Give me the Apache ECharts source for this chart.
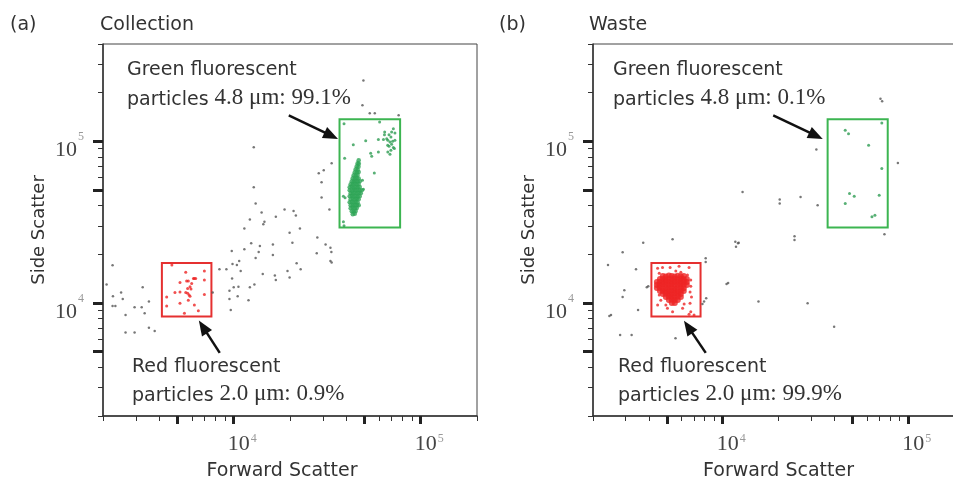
<!DOCTYPE html>
<html>
<head>
<meta charset="utf-8">
<script src="https://cdn.jsdelivr.net/npm/echarts@6/dist/echarts.min.js"></script>
<style>
  html, body { margin: 0; padding: 0; background: #fff; }
  #chart { width: 953px; height: 481px; }
</style>
</head>
<body>
<div id="chart"></div>
<script>
// axis ticks (log scale, forward / side scatter)
const xMinorTicks = [2000, 3000, 4000, 6000, 7000, 8000, 9000, 20000, 30000, 40000, 60000, 70000, 80000, 90000, 200000]
const xMajorTicks = [5000, 10000, 50000, 100000]
const yMinorTicks = [2000, 3000, 4000, 6000, 7000, 8000, 9000, 20000, 30000, 40000, 60000, 70000, 80000, 90000, 200000, 300000, 400000]
const yMajorTicks = [5000, 10000, 50000, 100000]
const decadeLabels = [10000, 100000]

// sorting gates [x0, y0, x1, y1]
const redGate = [4130, 8250, 7600, 17700]
const greenGate = [36800, 29300, 77600, 137000]

// (a) Collection
const collectionGray = [
  [29500, 44900], [13100, 41200], [18700, 37900], [20900, 37100], [14100, 36300], [21500, 34800],
  [16800, 34100], [12200, 32900], [14600, 31800], [14400, 30700], [11400, 28900], [22600, 28900],
  [19900, 27200], [32500, 37900], [28000, 25400], [20600, 23600], [12400, 23400], [16200, 23000],
  [13800, 22500], [11400, 21500], [9760, 21000], [31000, 23000], [32900, 22000], [13600, 20700],
  [16200, 19800], [33300, 20700], [27800, 20300], [13100, 19000], [10700, 18200], [10400, 17200],
  [9850, 17400], [32900, 18200], [33400, 17800], [21700, 17600], [8390, 16200], [9140, 16200],
  [10900, 15800], [22800, 16200], [19400, 15800], [14300, 15100], [16600, 14800], [19900, 14400],
  [16800, 13900], [9800, 14200], [12900, 13000], [12200, 12500], [10000, 12500], [10600, 12600],
  [9490, 11900], [7720, 11600], [10500, 11000], [9490, 10600], [12000, 10400], [9640, 9060],
  [2250, 17100], [2090, 13000], [2500, 11600], [2260, 11000], [2550, 10600], [3260, 12500],
  [3520, 10200], [2250, 9590], [2330, 9590], [2950, 9410], [3220, 9410], [3340, 8640],
  [2640, 8440], [3520, 7040], [3780, 6720], [2640, 6560], [2950, 6560],
  [12800, 91900], [33400, 73200], [28500, 63400], [30300, 66200], [29500, 55800], [12800, 52000],
  [49400, 238000], [48800, 167000], [53400, 149000], [56800, 149000], [76200, 145000]
]
const collectionRed = [
  [4670, 17200], [5540, 15500], [6970, 15800], [6090, 14200], [6260, 14200], [5160, 13400],
  [5600, 13700], [5960, 13200], [5840, 12600], [6970, 13900], [5910, 12200], [5670, 12300],
  [4850, 11600], [5160, 11700], [5540, 11600], [5670, 11500], [5770, 11200], [5840, 11000],
  [4380, 10900], [6970, 11300], [5720, 10400], [5160, 9960], [6160, 9720], [4380, 9590],
  [6470, 8970], [5450, 8640], [5720, 13700], [6160, 14200]
]
const collectionGreen = [
  [38900, 128600], [60300, 131600], [64200, 114100], [64000, 110000], [71400, 119800], [69900, 114100],
  [50800, 101000], [59400, 102800], [63200, 102800], [66700, 101400], [66600, 94500], [72800, 112500],
  [67700, 109900], [69300, 106300], [65800, 103900], [70800, 100000], [68500, 99000], [69900, 95900],
  [67700, 93200], [71400, 91500], [69300, 88000], [66700, 85900], [68500, 83100], [72300, 90200],
  [72800, 101400], [43600, 95400], [54000, 84300], [54700, 80800], [59400, 85900], [39200, 78500],
  [56500, 63700], [38600, 31800], [38900, 30000], [38600, 45800], [39400, 44700], [48800, 57400],
  [49400, 50600]
]
const collectionGreenCore = [
  [46600, 76300], [46000, 73100], [46700, 72600], [45500, 70100], [46500, 69600], [44900, 67200],
  [46000, 66800], [44400, 64400], [45500, 64100], [46600, 64600], [43800, 61700], [44900, 61300],
  [46000, 61900], [43300, 59100], [44400, 58700], [45500, 59300], [46600, 58800], [42800, 56600],
  [43800, 56300], [44900, 56900], [46000, 56400], [47200, 56700], [42200, 54300], [43300, 54000],
  [44400, 54600], [45500, 54100], [46600, 54400], [41700, 52000], [42800, 52300], [43800, 51700],
  [44900, 52200], [46000, 51800], [47200, 52100], [41700, 49800], [42800, 49500], [43800, 50100],
  [44900, 49700], [46000, 50000], [47200, 49600], [48400, 49900], [42200, 47800], [43300, 47500],
  [44400, 48000], [45500, 47600], [46600, 47900], [47800, 47700], [41700, 45800], [42800, 46000],
  [43800, 45600], [44900, 45900], [46000, 45500], [47200, 45800], [42200, 43900], [43300, 44100],
  [44400, 43700], [45500, 44000], [46600, 43800], [41700, 42000], [42800, 42200], [43800, 41800],
  [44900, 42100], [46000, 41900], [42200, 40300], [43300, 40100], [44400, 40400], [45500, 40200],
  [46600, 40300], [42200, 38600], [43300, 38800], [44400, 38500], [45500, 38700], [42800, 37000],
  [43800, 36800], [44900, 37100], [43300, 35400], [44400, 35600]
]

// (b) Waste
const wasteGray = [
  [12800, 48600], [20300, 43700], [20300, 41200], [26300, 45300], [32500, 40300], [24400, 25900],
  [24400, 24500], [11700, 23900], [12100, 23400], [11800, 22300], [12200, 23600], [3730, 23600],
  [5370, 24800], [2890, 20600], [2410, 17200], [3410, 16200], [8100, 18900], [8100, 17900],
  [2950, 12000], [2890, 10900], [3970, 12700], [3900, 12500], [10500, 13100], [10700, 13300],
  [8150, 10700], [7940, 10200], [7780, 9860], [15600, 10200], [28700, 9960], [39900, 7140],
  [3500, 9060], [2500, 8440], [2450, 8320], [2800, 6350], [3230, 6350], [5570, 6060],
  [32000, 88900], [70900, 183500], [72400, 177300], [88000, 73500], [74500, 26600]
]
const wasteRed = [
  [4460, 16400], [4740, 16600], [5210, 16600], [5820, 16900], [6590, 16600], [4550, 15300],
  [6460, 14900], [6730, 13900], [6730, 12700], [6670, 11700], [4550, 11200], [4640, 10400],
  [4460, 9720], [4940, 9720], [5040, 9280], [5370, 8840], [6080, 9280], [6200, 9870],
  [6730, 8840], [7010, 8440], [6590, 8520], [6790, 10900], [6670, 9970], [4840, 13900],
  [5590, 15800], [5950, 15500]
]
const wasteRedCore = [
  [4760, 14700], [4940, 14600], [5130, 14800], [5320, 14700], [5520, 14600], [5730, 14750], [5950, 14650], [6170, 14700],
  [4590, 14070], [4760, 14100], [4940, 14000], [5130, 14100], [5320, 14050], [5520, 14100], [5730, 14000], [5950, 14100], [6170, 14050], [6410, 14070],
  [4420, 13480], [4590, 13500], [4760, 13450], [4940, 13500], [5130, 13480], [5320, 13450], [5520, 13500], [5730, 13480], [5950, 13450], [6170, 13500], [6410, 13480],
  [4420, 12920], [4590, 12900], [4760, 12950], [4940, 12900], [5130, 12920], [5320, 12950], [5520, 12900], [5730, 12920], [5950, 12950], [6170, 12900], [6410, 12920],
  [4420, 12380], [4590, 12400], [4760, 12350], [4940, 12380], [5130, 12400], [5320, 12380], [5520, 12350], [5730, 12400], [5950, 12380], [6170, 12350],
  [4590, 11860], [4760, 11880], [4940, 11840], [5130, 11860], [5320, 11880], [5520, 11860], [5730, 11840], [5950, 11860], [6170, 11880],
  [4760, 11370], [4940, 11390], [5130, 11350], [5320, 11370], [5520, 11390], [5730, 11370], [5950, 11350],
  [4940, 10900], [5130, 10920], [5320, 10880], [5520, 10900], [5730, 10920], [5950, 10900],
  [5130, 10440], [5320, 10460], [5520, 10420], [5730, 10440],
  [5320, 10010], [5520, 10000]
]
const wasteGreen = [
  [45800, 116900], [47700, 111600], [61200, 94500], [72100, 129700], [72100, 67800], [48300, 47500],
  [51200, 45800], [45800, 41200], [69800, 46400], [63800, 34100], [66200, 34900]
]

// annotation arrows [tail, head] in data units
const greenArrowCollection = [[19700, 144700], [33250, 108300]]
const redArrowCollection = [[8420, 4915], [6846, 7113]]
const greenArrowWaste = [[18730, 144700], [31850, 108300]]
const redArrowWaste = [[8106, 4915], [6518, 7113]]

const panelNames = ['(a)', '(b)']
const panelTitles = ['Collection', 'Waste']
const greenPercent = ['99.1%', '0.1%']
const redPercent = ['0.9%', '99.9%']

const sans = 'DejaVu Sans'
const serif = 'Liberation Serif'
const ink = '#333'

const supLabelX = {
  formatter: v => '{b|10}{s|' + Math.round(Math.log10(v)) + '}',
  rich: {
    b: { fontFamily: serif, fontSize: 22, color: '#444', padding: [0, 0, 0, 17], verticalAlign: 'bottom' },
    s: { fontFamily: serif, fontSize: 12, color: '#999', padding: [0, 0, 10, 1], verticalAlign: 'top' }
  }
}
const supLabelY = {
  formatter: v => '{b|10}{s|' + Math.round(Math.log10(v)) + '}',
  rich: {
    b: { fontFamily: serif, fontSize: 22, color: '#444', padding: [18, 0, 0, 0], verticalAlign: 'bottom' },
    s: { fontFamily: serif, fontSize: 12, color: '#999', padding: [10, 0, 0, 1], verticalAlign: 'top' }
  }
}

const makeXAxes = (gridIndex, namePad) => [
  {
    type: 'log', gridIndex, position: 'bottom', min: 2000, max: 200000,
    axisLine: { show: true, lineStyle: { color: '#333', width: 1.5 } },
    axisTick: { show: true, customValues: xMinorTicks, length: 5, lineStyle: { color: '#333', width: 1 } },
    axisLabel: { show: true, customValues: decadeLabels, formatter: () => '' },
    splitLine: { show: false },
    name: 'Forward Scatter', nameLocation: 'middle', nameGap: 46,
    nameTextStyle: { fontFamily: sans, fontSize: 19, color: ink, padding: namePad }
  },
  {
    type: 'log', gridIndex, position: 'bottom', min: 2000, max: 200000,
    axisLine: { show: false },
    axisTick: { show: true, customValues: xMajorTicks, length: 8, lineStyle: { color: '#222', width: 3 } },
    axisLabel: Object.assign({ show: true, customValues: decadeLabels, margin: 17 }, supLabelX),
    splitLine: { show: false }
  }
]

const makeYAxes = (gridIndex) => [
  {
    type: 'log', gridIndex, position: 'left', min: 2000, max: 400000,
    axisLine: { show: true, lineStyle: { color: '#333', width: 1.5 } },
    axisTick: { show: true, customValues: yMinorTicks, length: 5, lineStyle: { color: '#333', width: 1 } },
    axisLabel: { show: true, customValues: decadeLabels, formatter: () => '' },
    splitLine: { show: false },
    name: 'Side Scatter', nameLocation: 'middle', nameGap: 55, nameRotate: 90,
    nameTextStyle: { fontFamily: sans, fontSize: 18, color: ink }
  },
  {
    type: 'log', gridIndex, position: 'left', min: 2000, max: 400000,
    axisLine: { show: false },
    axisTick: { show: true, customValues: yMajorTicks, length: 10, lineStyle: { color: '#222', width: 3 } },
    axisLabel: Object.assign({ show: true, customValues: decadeLabels, margin: 19, align: 'right' }, supLabelY),
    splitLine: { show: false }
  }
]

const gateArea = (gate, color) => ({
  silent: true,
  itemStyle: { color: 'rgba(0,0,0,0)', borderColor: color, borderWidth: 2 },
  data: [[{ coord: [gate[0], gate[1]] }, { coord: [gate[2], gate[3]] }]]
})

const arrow = (pts) => ({
  silent: true,
  symbol: ['none', 'triangle'],
  symbolSize: [12, 15],
  label: { show: false },
  lineStyle: { color: '#111', width: 2.5, type: 'solid' },
  data: [[{ coord: pts[0] }, { coord: pts[1] }]]
})

const dots = (xi, data, size, color) => ({
  type: 'scatter', xAxisIndex: xi, yAxisIndex: xi, data, symbolSize: size, itemStyle: { color }, silent: true
})

const panelSeries = (xi, gray, red, redCore, green, greenCore, greenArrow, redArrow) => [
  dots(xi, gray, 2.5, '#555'),
  Object.assign(dots(xi, red, 3, '#ee2424'), { markArea: gateArea(redGate, '#e53030'), markLine: arrow(redArrow) }),
  dots(xi, redCore, 6, '#ee2424'),
  Object.assign(dots(xi, green, 3, '#2e9c52'), { markArea: gateArea(greenGate, '#3cb551'), markLine: arrow(greenArrow) }),
  dots(xi, greenCore, 4.5, '#2ea556')
]

const textEl = (x, y, text) => ({
  type: 'text', x, y, silent: true,
  style: { text, fontFamily: sans, fontSize: 19, fill: ink, verticalAlign: 'middle' }
})
const richEl = (x, y, value) => ({
  type: 'text', x, y, silent: true,
  style: {
    text: '{a|particles }{b|' + value + '}',
    verticalAlign: 'middle',
    rich: {
      a: { fontFamily: sans, fontSize: 19, fill: ink, verticalAlign: 'bottom' },
      b: { fontFamily: serif, fontSize: 23, fill: ink, verticalAlign: 'bottom' }
    }
  }
})

const chart = echarts.init(document.getElementById('chart'))
chart.setOption({
  animation: false,
  backgroundColor: '#fff',
  grid: [
    { left: 103, top: 44, width: 374, height: 372, show: true, borderColor: '#444', borderWidth: 1, outerBoundsMode: 'none', containLabel: false },
    { left: 593, top: 44, width: 371, height: 372, show: true, borderColor: '#444', borderWidth: 1, outerBoundsMode: 'none', containLabel: false }
  ],
  xAxis: [...makeXAxes(0, [0, 16, 0, 0]), ...makeXAxes(1, 0)],
  yAxis: [...makeYAxes(0), ...makeYAxes(1)],
  series: [
    ...panelSeries(0, collectionGray, collectionRed, [], collectionGreen, collectionGreenCore, greenArrowCollection, redArrowCollection),
    ...panelSeries(2, wasteGray, wasteRed, wasteRedCore, wasteGreen, [], greenArrowWaste, redArrowWaste)
  ],
  graphic: [
    textEl(10, 25, panelNames[0]),
    textEl(100, 25, panelTitles[0]),
    textEl(499, 25, panelNames[1]),
    textEl(589, 25, panelTitles[1]),
    textEl(127, 70, 'Green fluorescent'),
    richEl(127, 98, '4.8 μm: ' + greenPercent[0]),
    textEl(132, 367, 'Red fluorescent'),
    richEl(132, 394, '2.0 μm: ' + redPercent[0]),
    textEl(613, 70, 'Green fluorescent'),
    richEl(613, 98, '4.8 μm: ' + greenPercent[1]),
    textEl(618, 367, 'Red fluorescent'),
    richEl(618, 394, '2.0 μm: ' + redPercent[1])
  ]
})
</script>
</body>
</html>
